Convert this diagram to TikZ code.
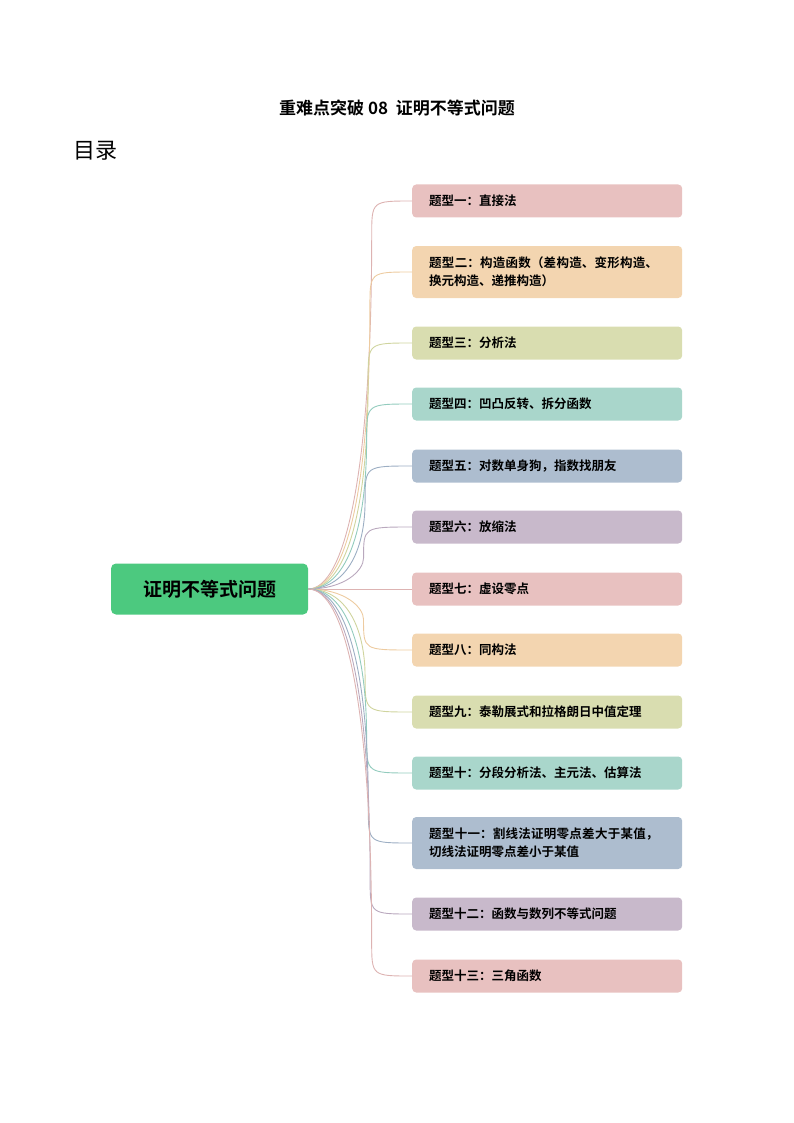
\documentclass[tikz,border=0pt]{standalone}
\usepackage{fontspec}
\newfontfamily\cjk{Noto Sans CJK SC}
\newfontfamily\cjkb{Noto Sans CJK SC Bold}
\XeTeXlinebreaklocale "zh"
\XeTeXlinebreakskip=0pt plus 1pt
\definecolor{c1}{HTML}{E8C1C0}\definecolor{l1}{HTML}{DDB3B2}
\definecolor{c2}{HTML}{F3D5B0}\definecolor{l2}{HTML}{EDCBA0}
\definecolor{c3}{HTML}{D9DDB0}\definecolor{l3}{HTML}{CFD49E}
\definecolor{c4}{HTML}{A9D6CB}\definecolor{l4}{HTML}{92CBBD}
\definecolor{c5}{HTML}{ADBDCF}\definecolor{l5}{HTML}{9CAEC3}
\definecolor{c6}{HTML}{C8B9CB}\definecolor{l6}{HTML}{B9A8BD}
\definecolor{rootg}{HTML}{4CC97F}
\tikzset{x=1pt,y=-1pt,
 item/.style={rounded corners=4pt,anchor=west,minimum width=270pt,text width=236pt,align=left,inner xsep=13pt,font=\cjkb\fontsize{12.5}{18}\selectfont},
 conn/.style={line width=0.9pt}}
\begin{document}
\begin{tikzpicture}
\useasboundingbox (0,0) rectangle (794,1123);
\node[font=\cjkb\fontsize{17}{20}\selectfont] (title) at (397,108) {重难点突破 08\ \ 证明不等式问题};
\node[anchor=west,font=\cjk\fontsize{22}{24}\selectfont] (toc) at (70,151) {目录};
\node[fill=rootg,rounded corners=5pt,minimum width=197pt,minimum height=51pt,font=\cjkb\fontsize{19}{22}\selectfont] (root) at (209.5,589) {证明不等式问题};
\foreach \i/\y/\c/\h/\t in {
1/201/1/33/{题型一：直接法},
2/272/2/52/{题型二：构造函数（差构造、变形构造、换元构造、递推构造）},
3/343/3/33/{题型三：分析法},
4/404/4/33/{题型四：凹凸反转、拆分函数},
5/466/5/33/{题型五：对数单身狗，指数找朋友},
6/527/6/33/{题型六：放缩法},
7/589/1/33/{题型七：虚设零点},
8/650/2/33/{题型八：同构法},
9/712/3/33/{题型九：泰勒展式和拉格朗日中值定理},
10/773/4/33/{题型十：分段分析法、主元法、估算法},
11/843/5/52/{题型十一：割线法证明零点差大于某值，切线法证明零点差小于某值},
12/914/6/33/{题型十二：函数与数列不等式问题},
13/976/1/33/{题型十三：三角函数}}{
 \node[item,fill=c\c,minimum height=\h pt] (b\i) at (412,\y) {\t};
 \pgfmathsetmacro{\d}{\y-589}
 \pgfmathsetmacro{\s}{\d>0?1:(\d<0?-1:0)}
 \pgfmathsetmacro{\ad}{abs(\d)}
 \pgfmathsetmacro{\ya}{\y-\s*min(35,\ad*0.5)}
 \pgfmathsetmacro{\yb}{589+\s*(\ad*0.3)}
 \pgfmathsetmacro{\xv}{362+\ad*0.025}
 \ifdim \ad pt<20pt
  \draw[conn,l\c] (root.east) -- (b\i.west);
 \else
  \draw[conn,l\c] (root.east) .. controls (345,589) and (\xv,\yb) .. (\xv,\ya) .. controls (\xv,\y) .. (b\i.west);
 \fi
}
\end{tikzpicture}
\end{document}
